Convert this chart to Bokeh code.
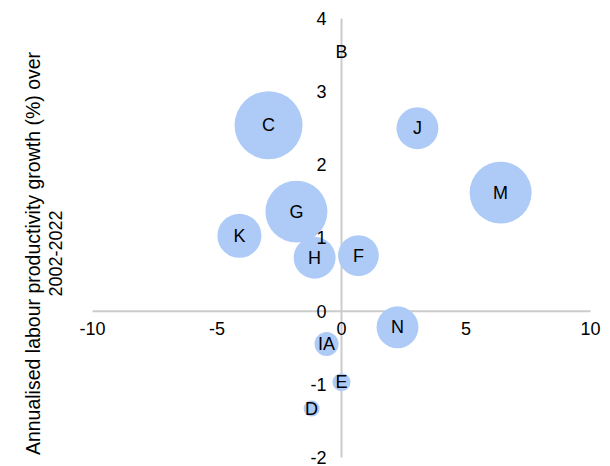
import numpy as np
from bokeh.plotting import figure
from bokeh.models import ColumnDataSource, FixedTicker, Label
from bokeh.core.properties import value
from bokeh.embed import file_html
from bokeh.resources import INLINE

# ---- data ----
sectors = ["B", "C", "D", "E", "F", "G", "H", "IA", "J", "K", "M", "N"]
x_vals = [0.0, -2.93, -1.20, 0.0, 0.68, -1.81, -1.08, -0.60, 3.05, -4.10, 6.39, 2.25]
y_vals = [3.54, 2.54, -1.33, -0.97, 0.76, 1.36, 0.73, -0.45, 2.50, 1.03, 1.62, -0.22]
weights = [0.1, 100, 5.5, 7, 36, 83, 38, 12.5, 38, 42, 83, 38]
x_ticks = [-10, -5, 0, 5, 10]
y_ticks = [-2, -1, 0, 1, 2, 3, 4]
y_label_1 = "Annualised labour productivity growth (%) over"
y_label_2 = "2002-2022"

FONT = "Liberation Sans"
FS = "18px"
MAX_D = 68
diam = [MAX_D * np.sqrt(w / max(weights)) for w in weights]

src = ColumnDataSource(dict(x=x_vals, y=y_vals, s=diam, t=sectors))

# layout: frame covers the whole canvas; ~24.9 px per x unit, ~73.5 px per y unit
XPX, YPX = 24.9, 73.5
W, H = 610, 466
p = figure(width=W, height=H,
           x_range=(x_ticks[0] - 92 / XPX, x_ticks[-1] + 20 / XPX),
           y_range=(y_ticks[0] - 9 / YPX, y_ticks[-1] + 18 / YPX),
           output_backend="svg", toolbar_location=None,
           min_border_left=0, min_border_right=0, min_border_top=0, min_border_bottom=0)
p.grid.visible = False
p.outline_line_color = None
p.background_fill_color = "white"
p.border_fill_color = "white"

# axis lines through the origin
p.segment(x0=[x_ticks[0], 0], y0=[0, y_ticks[0]], x1=[x_ticks[-1], 0], y1=[0, y_ticks[-1]],
          line_color="#cccccc", line_width=2)

p.scatter("x", "y", size="s", source=src, fill_color="#aecbf7", line_color=None)
p.text("x", "y", text="t", source=src, text_align="center", text_baseline="middle",
       text_font=value(FONT), text_font_size=FS, text_color="#000000")

for ax, ticks, so in ((p.xaxis[0], x_ticks, 11), (p.yaxis[0], y_ticks, 15)):
    ax.fixed_location = 0
    ax.ticker = FixedTicker(ticks=ticks)
    ax.major_label_overrides = {t: str(t) for t in ticks}
    ax.major_tick_out = 0
    ax.major_tick_in = 0
    ax.minor_tick_out = 0
    ax.minor_tick_in = 0
    ax.axis_line_color = None
    ax.major_label_text_font = FONT
    ax.major_label_text_font_size = FS
    ax.major_label_text_color = "#000000"
    ax.major_label_standoff = so

for txt, sx, fs in ((y_label_1, 32, "19.5px"), (y_label_2, 55, "18px")):
    p.add_layout(Label(x=sx, y=213, x_units="screen", y_units="screen", text=txt,
                       angle=np.pi / 2, text_align="center", text_baseline="alphabetic",
                       text_font=FONT, text_font_size=fs, text_color="#000000"))

open("out.html", "w").write(file_html(p, INLINE))
